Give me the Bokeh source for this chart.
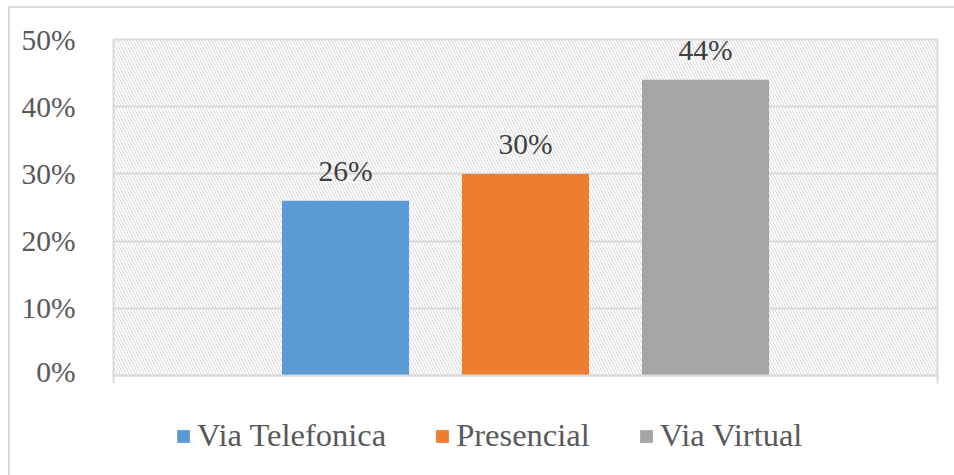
from bokeh.plotting import figure
from bokeh.layouts import column
from bokeh.models import (ColumnDataSource, Range1d, FixedTicker, BoxAnnotation,
                          Legend, LegendItem, CustomJSTickFormatter)
from bokeh.core.properties import value
from bokeh.embed import file_html
from bokeh.resources import INLINE

# ---- data ----
categories = ["Via Telefonica", "Presencial", "Via Virtual"]
values = [0.26, 0.30, 0.44]
colors = ["#5b9bd5", "#ed7d31", "#a5a5a5"]
y_ticks = [0.0, 0.1, 0.2, 0.3, 0.4, 0.5]
y_tick_labels = ["0%", "10%", "20%", "30%", "40%", "50%"]
data_labels = ["26%", "30%", "44%"]

FONT = "Liberation Serif"
GRID = "#d9d9d9"

x_pos = list(range(len(categories)))
x_lo, x_hi = -1.289, 3.289

p = figure(width=944, height=379, output_backend="svg", toolbar_location=None,
           x_range=Range1d(x_lo, x_hi), y_range=Range1d(0, 0.5),
           min_border_left=103, min_border_right=17, min_border_top=31,
           min_border_bottom=12)

p.outline_line_color = GRID
p.outline_line_width = 2

# hatched plot area
hatch = BoxAnnotation(level="image", fill_alpha=0, line_color=None,
                      hatch_pattern="\\", hatch_scale=6, hatch_weight=1,
                      hatch_color="#d9d9d9", hatch_alpha=1.0)
p.add_layout(hatch)

# y axis
p.yaxis.ticker = FixedTicker(ticks=y_ticks)
p.yaxis.major_label_overrides = {t: l for t, l in zip(y_ticks, y_tick_labels)}
p.yaxis.axis_line_color = None
p.yaxis.major_tick_line_color = None
p.yaxis.minor_tick_line_color = None
p.yaxis.major_label_standoff = 32
p.yaxis.major_label_text_font = FONT
p.yaxis.major_label_text_font_size = "29.5px"
p.yaxis.major_label_text_color = "#595959"

# x axis: only boundary tick marks
p.xaxis.ticker = FixedTicker(ticks=[x_lo, x_hi])
p.xaxis.formatter = CustomJSTickFormatter(code="return ''")
p.xaxis.axis_line_color = GRID
p.xaxis.axis_line_width = 2
p.xaxis.major_tick_line_color = GRID
p.xaxis.major_tick_line_width = 2
p.xaxis.major_tick_out = 8
p.xaxis.major_tick_in = 0
p.xaxis.major_label_standoff = 0
p.xaxis.major_label_text_font_size = "1px"
p.xaxis.minor_tick_line_color = None

p.xgrid.grid_line_color = None
p.ygrid.ticker = FixedTicker(ticks=y_ticks)
p.ygrid.grid_line_color = GRID
p.ygrid.grid_line_width = 2

for i, (v, c) in enumerate(zip(values, colors)):
    src = ColumnDataSource(dict(x=[x_pos[i]], top=[v]))
    p.vbar(x="x", top="top", width=0.706, bottom=0, source=src,
           fill_color=c, line_color=None)

lab = ColumnDataSource(dict(x=x_pos, y=values, t=data_labels))
p.text(x="x", y="y", text="t", source=lab, text_align="center",
       text_baseline="alphabetic", y_offset=-30,
       text_font=value(FONT), text_font_size="29.5px", text_color="#404040")

# ---- legend strip below the plot (its frame is aligned with the plot's) ----
# the bars here only supply the legend swatches; the ranges keep them out of view
pl = figure(width=944, height=88, output_backend="svg", toolbar_location=None,
            x_axis_type=None, y_axis_type=None,
            x_range=Range1d(100, 101), y_range=Range1d(100, 101),
            min_border_left=0, min_border_right=0, min_border_top=0,
            min_border_bottom=0)
pl.outline_line_color = None
pl.grid.grid_line_color = None

items = []
for i, (cat, c) in enumerate(zip(categories, colors)):
    src = ColumnDataSource(dict(x=[x_pos[i]], top=[values[i]]))
    r = pl.vbar(x="x", top="top", width=0.706, bottom=0, source=src,
                fill_color=c, line_color=None)
    items.append(LegendItem(label=cat, renderers=[r]))

legend = Legend(items=items, orientation="horizontal", location=(62, 21),
                margin=0, padding=0, spacing=48, label_standoff=6,
                glyph_width=16, glyph_height=16,
                border_line_color=None, background_fill_alpha=0,
                label_text_font=FONT, label_text_font_size="32.5px",
                label_text_color="#595959")
pl.add_layout(legend, "center")

layout = column(p, pl, spacing=0,
                styles={"margin-left": "8px", "margin-top": "6px",
                        "border-left": "2px solid #d9d9d9",
                        "border-top": "2px solid #d9d9d9"})

open("out.html", "w").write(file_html(layout, INLINE))
